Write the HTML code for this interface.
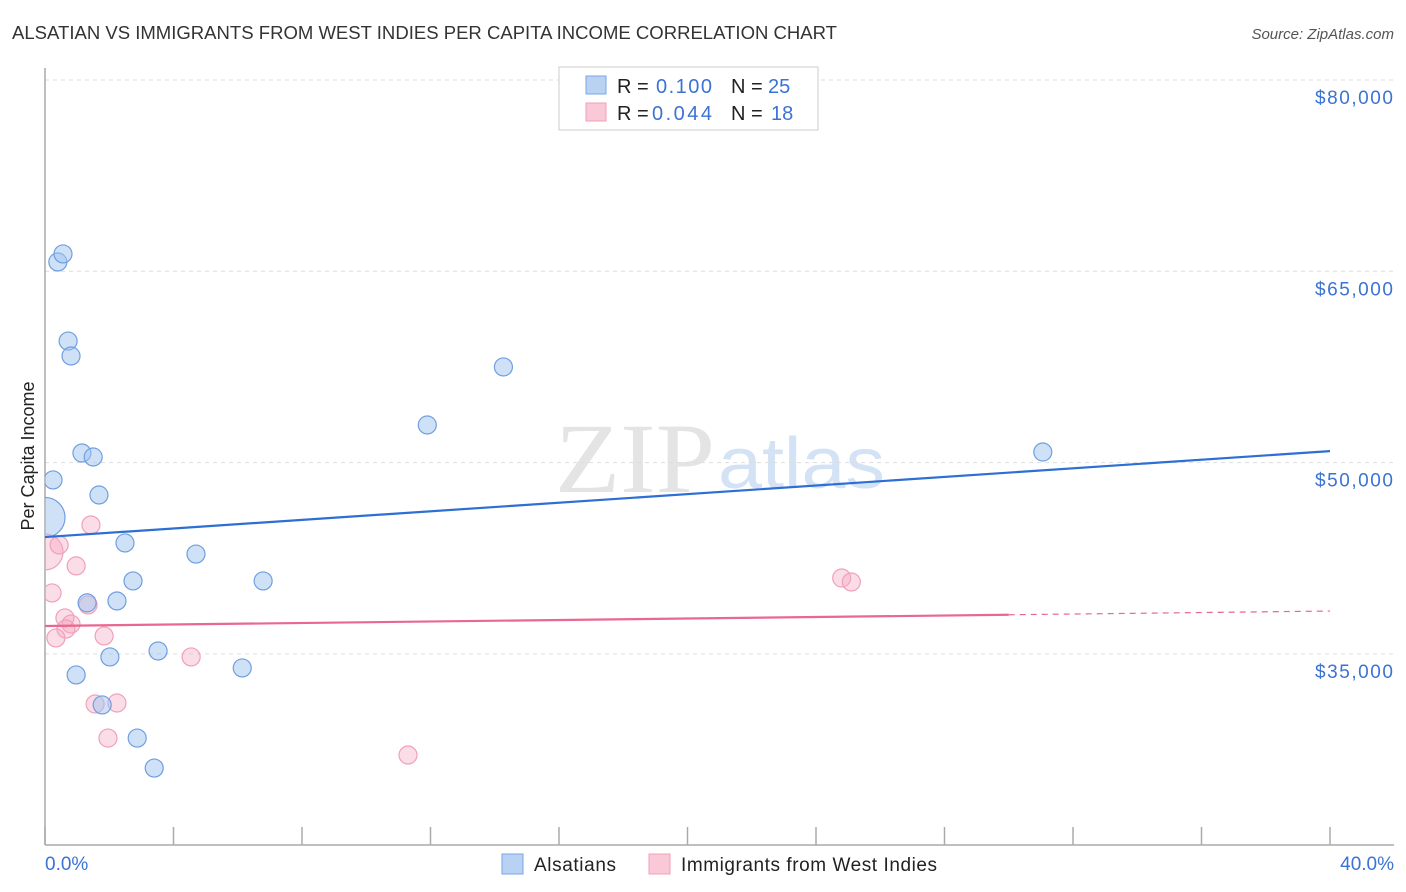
<!DOCTYPE html>
<html><head><meta charset="utf-8"><style>
body{margin:0;background:#fff;font-family:"Liberation Sans",sans-serif}
svg{display:block}
</style></head><body>
<svg id="chart" width="1406" height="892">
<defs><clipPath id="plotclip"><rect x="45" y="60" width="1360" height="785"/></clipPath></defs>
<text x="12" y="39" font-size="18" fill="#333" textLength="825" lengthAdjust="spacingAndGlyphs">ALSATIAN VS IMMIGRANTS FROM WEST INDIES PER CAPITA INCOME CORRELATION CHART</text>
<text x="1394" y="39" font-size="15" fill="#555" font-style="italic" text-anchor="end">Source: ZipAtlas.com</text>
<text x="555" y="492" font-size="100" fill="#e4e4e4" font-family="Liberation Serif,serif" textLength="160" lengthAdjust="spacingAndGlyphs">ZIP</text>
<text x="718" y="488" font-size="72" fill="#d3e2f5" textLength="167" lengthAdjust="spacingAndGlyphs">atlas</text>
<g id="grid"></g>
<line x1="45" y1="68" x2="45" y2="845" stroke="#aaa" stroke-width="1.5"/>
<line x1="45" y1="845" x2="1394" y2="845" stroke="#aaa" stroke-width="1.5"/>
<g id="xticks"></g>
<text x="45" y="870" font-size="19" fill="#3b73d4">0.0%</text>
<text x="1394" y="870" font-size="19" fill="#3b73d4" text-anchor="end">40.0%</text>
<text transform="translate(34,456) rotate(-90)" font-size="18" fill="#222" text-anchor="middle">Per Capita Income</text>
<g id="marks" clip-path="url(#plotclip)"></g>
<g>
<rect x="559" y="67" width="259" height="63" fill="#fff" stroke="#ccc"/>
<rect x="586" y="76" width="20" height="18" fill="#b9d1f3" stroke="#7aa5e6"/>
<rect x="586" y="103" width="20" height="18" fill="#f9c9d8" stroke="#f0a0bb"/>
<text x="617" y="93" font-size="20" fill="#222">R =</text>
<text x="656" y="93" font-size="20" fill="#3b73d4" textLength="56">0.100</text>
<text x="731" y="93" font-size="20" fill="#222">N =</text>
<text x="768" y="93" font-size="20" fill="#3b73d4">25</text>
<text x="617" y="120" font-size="20" fill="#222">R =</text>
<text x="652" y="120" font-size="20" fill="#3b73d4" textLength="60">0.044</text>
<text x="731" y="120" font-size="20" fill="#222">N =</text>
<text x="771" y="120" font-size="20" fill="#3b73d4">18</text>
</g>
<g>
<rect x="502" y="854" width="21" height="20" fill="#b9d1f3" stroke="#7aa5e6"/>
<text x="534" y="871" font-size="19" fill="#222" textLength="82">Alsatians</text>
<rect x="649" y="854" width="21" height="20" fill="#f9c9d8" stroke="#f0a0bb"/>
<text x="681" y="871" font-size="19" fill="#222" textLength="256">Immigrants from West Indies</text>
</g>
</svg>
<script>
const yTicks=[35000,50000,65000,80000];
const yTickLabels=["$35,000","$50,000","$65,000","$80,000"];
const xTicks=[0,4,8,12,16,20,24,28,32,36,40];
const alsX=[0,0.25,0.4,0.56,0.72,0.81,1.15,1.5,1.68,2.49,2.74,2.24,1.31,2.02,0.97,3.52,1.78,2.87,3.4,4.7,6.14,6.79,11.9,14.27,31.06];
const alsY=[45700,48640,65730,66360,59530,58360,50750,50440,47460,43700,40720,39150,39000,34760,33350,35230,31000,28400,26050,42830,33900,40720,52950,57500,50830];
const wiX=[0,0.44,1.43,0.97,0.22,1.34,0.62,0.81,0.65,0.34,1.84,4.55,1.56,2.24,1.96,11.3,24.8,25.1];
const wiY=[42990,43540,45110,41900,39780,38840,37820,37340,36950,36250,36410,34760,31070,31150,28400,27070,40950,40640];
const alsTrend=[44160,50900];
const wiTrend=[37190,38360];
const NS="http://www.w3.org/2000/svg";
const X=p=>45+p*(1285/40);
const Y=v=>80+(80000-v)*(191.3/15000);
function mk(tag,attrs,parent){const e=document.createElementNS(NS,tag);for(const k in attrs)e.setAttribute(k,attrs[k]);document.getElementById(parent).appendChild(e);return e;}
yTicks.forEach((t,i)=>{
 const l=mk('line',{x1:45,x2:1394,y1:Y(t),y2:Y(t),stroke:'#ddd','stroke-dasharray':'4,4'},'grid');
 
 
 const tx=mk('text',{x:1393,y:Y(t)+24,'font-size':19,fill:'#3b73d4','text-anchor':'end',textLength:78},'grid');
 tx.textContent=yTickLabels[i];
 
 
});
xTicks.forEach(t=>{
 const l=mk('line',{x1:X(t),x2:X(t),y1:827,y2:845,stroke:'#aaa','stroke-width':1.5},'xticks');
 
 
});
function dot(x,y,r,fill,stroke,name){
 const c=mk('circle',{cx:X(x),cy:Y(y),r:r,fill:fill,stroke:stroke,'stroke-width':1.2},'marks');
 
 
}
wiX.forEach((x,i)=>dot(x,wiY[i],i===0?18:9,'rgba(246,170,196,0.4)','#f0a0bb','west-indies-point'));
alsX.forEach((x,i)=>dot(x,alsY[i],i===0?20:9,'rgba(160,195,240,0.5)','#6f9fe0','alsatian-point'));
const bl=mk('line',{x1:X(0),y1:Y(alsTrend[0]),x2:X(40),y2:Y(alsTrend[1]),stroke:'#2d6fd2','stroke-width':2.2},'marks');


const wAt=p=>wiTrend[0]+(wiTrend[1]-wiTrend[0])*p/40;
const pl=mk('line',{x1:X(0),y1:Y(wiTrend[0]),x2:X(30),y2:Y(wAt(30)),stroke:'#e8688f','stroke-width':2.2},'marks');


const pd=mk('line',{x1:X(30),y1:Y(wAt(30)),x2:X(40),y2:Y(wiTrend[1]),stroke:'#e8688f','stroke-width':1.2,'stroke-dasharray':'6,5'},'marks');


</script>
</body></html>
